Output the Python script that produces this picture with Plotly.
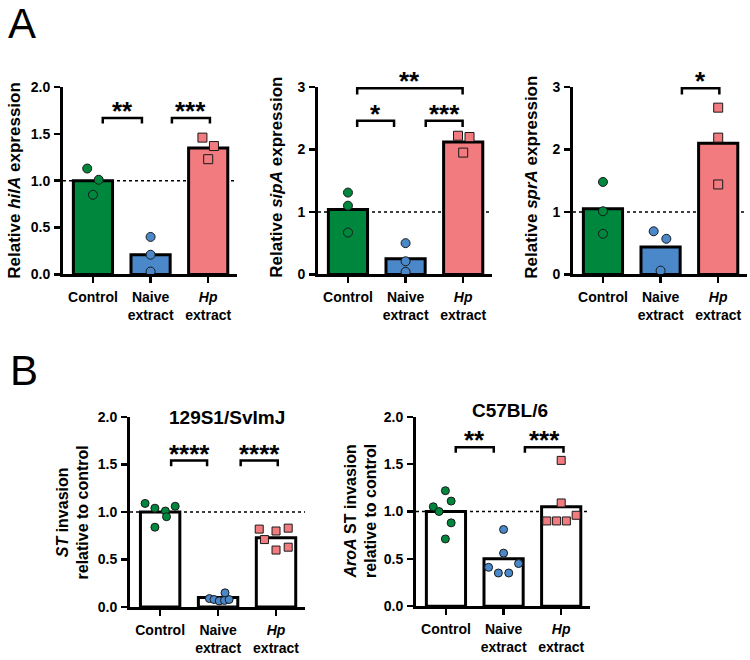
import plotly.graph_objects as go

# ---------------- data ----------------
categories = ["Control", "Naive<br>extract", "<i>Hp</i><br>extract"]
group_colors = ["#00873E", "#4A88CA", "#F17B7E"]

# Panel A (relative expression)
hilA_bars = [1.00, 0.21, 1.35]
hilA_points = [[1.13, 1.01, 0.85], [0.40, 0.21, 0.03], [1.46, 1.37, 1.23]]
sipA_bars = [1.04, 0.25, 2.12]
sipA_points = [[1.31, 1.10, 0.67], [0.50, 0.21, 0.04], [2.22, 2.20, 1.95]]
sprA_bars = [1.05, 0.44, 2.10]
sprA_points = [[1.48, 1.01, 0.65], [0.69, 0.57, 0.06], [2.67, 2.19, 1.44]]

# Panel B (invasion relative to control)
svimj_bars = [1.00, 0.10, 0.73]
svimj_points = [[1.09, 1.04, 1.01, 1.06, 0.95, 0.84],
                [0.09, 0.08, 0.065, 0.07, 0.08, 0.15],
                [0.82, 0.80, 0.83, 0.71, 0.60, 0.63]]
c57_bars = [1.00, 0.50, 1.05]
c57_points = [[1.05, 1.00, 1.22, 1.11, 0.88, 0.71],
              [0.81, 0.56, 0.41, 0.35, 0.35, 0.45],
              [1.54, 1.09, 0.90, 0.90, 0.90, 0.96]]

# significance comparisons: (start, end, bracket height, label)
hilA_sig = [(0.17, 0.85, 1.67, "**"), (1.37, 2.03, 1.67, "***")]
sipA_sig = [(0.16, 0.80, 2.46, "*"), (1.35, 1.99, 2.46, "***"), (0.16, 1.99, 2.98, "**")]
sprA_sig = [(1.37, 2.02, 2.98, "*")]
svimj_sig = [(0.19, 0.81, 1.54, "****"), (1.39, 2.03, 1.54, "****")]
c57_sig = [(0.17, 0.83, 1.68, "**"), (1.37, 2.04, 1.68, "***")]

# ---------------- layout helpers (styles / jitter) ----------------
jitter_A1 = [[-0.10, 0.10, 0.0], [0, 0, 0], [-0.10, 0.10, 0.0]]
jitter_A2 = [[0, 0, 0], [0, 0, 0], [-0.09, 0.11, 0.0]]
jitter_A3 = [[0, 0, 0], [-0.12, 0.10, 0.0], [0, 0, 0]]
jitter_B1 = [[-0.26, -0.09, 0.09, 0.26, 0.11, -0.09],
             [-0.15, -0.07, 0.02, 0.11, 0.19, 0.12],
             [-0.29, 0.0, 0.21, -0.20, 0.0, 0.21]]
jitter_B2 = [[-0.22, -0.12, -0.01, 0.09, 0.09, -0.01],
             [0.0, 0.0, -0.26, -0.09, 0.09, 0.26],
             [0.0, 0.0, -0.25, -0.08, 0.09, 0.26]]

W, H = 750, 660
FONT = "Liberation Sans, Arial, Helvetica, sans-serif"
XR = [-0.52, 2.5]

panels = [
    dict(bars=hilA_bars, pts=hilA_points, jit=jitter_A1, sig=hilA_sig, filled=True,
         xd=[63, 237], yd=[81, 273], yr=[0, 2.0], tv=[0, 0.5, 1.0, 1.5, 2.0], fmt=".1f",
         ytitle="Relative <i>hilA</i> expression", tpos=(15, 177), tsize=17, msize=9),
    dict(bars=sipA_bars, pts=sipA_points, jit=jitter_A2, sig=sipA_sig, filled=True,
         xd=[318, 492], yd=[81, 273], yr=[0, 3.0], tv=[0, 1, 2, 3], fmt="d",
         ytitle="Relative <i>sipA</i> expression", tpos=(277, 174), tsize=17, msize=9),
    dict(bars=sprA_bars, pts=sprA_points, jit=jitter_A3, sig=sprA_sig, filled=True,
         xd=[573, 747], yd=[81, 273], yr=[0, 3.0], tv=[0, 1, 2, 3], fmt="d",
         ytitle="Relative <i>sprA</i> expression", tpos=(532, 174), tsize=17, msize=9),
    dict(bars=svimj_bars, pts=svimj_points, jit=jitter_B1, sig=svimj_sig, filled=False,
         xd=[130, 305], yd=[419, 614], yr=[0, 2.0], tv=[0, 0.5, 1.0, 1.5, 2.0], fmt=".1f",
         ytitle="<i>ST</i> invasion<br>relative to control", tpos=(73, 517), tsize=16, msize=8,
         title="129S1/SvImJ", titlepos=(227, 420)),
    dict(bars=c57_bars, pts=c57_points, jit=jitter_B2, sig=c57_sig, filled=False,
         xd=[416, 590], yd=[419, 613], yr=[0, 2.0], tv=[0, 0.5, 1.0, 1.5, 2.0], fmt=".1f",
         ytitle="<i>AroA</i> ST invasion<br>relative to control", tpos=(361, 516), tsize=16, msize=8,
         title="C57BL/6", titlepos=(510, 413)),
]

fig = go.Figure()
shapes, annotations = [], []
layout = dict(width=W, height=H, margin=dict(l=0, r=0, t=0, b=0),
              paper_bgcolor="white", plot_bgcolor="white", showlegend=False,
              font=dict(family=FONT, color="black"))

symbols = ["circle", "circle", "square"]

for i, p in enumerate(panels):
    n = "" if i == 0 else str(i + 1)
    xa, ya = "x" + n, "y" + n
    xd = [p["xd"][0] / W, p["xd"][1] / W]
    yd = [1 - p["yd"][1] / H, 1 - p["yd"][0] / H]
    ymax = p["yr"][1]

    fills = group_colors if p["filled"] else ["white"] * 3
    fig.add_trace(go.Bar(x=[0, 1, 2], y=p["bars"], width=0.68, xaxis=xa, yaxis=ya,
                         marker=dict(color=fills, line=dict(color="black", width=3)),
                         hoverinfo="skip"))
    for g in range(3):
        xs = [g + j for j in p["jit"][g]]
        fig.add_trace(go.Scatter(x=xs, y=p["pts"][g], mode="markers", xaxis=xa, yaxis=ya,
                                 cliponaxis=False, hoverinfo="skip",
                                 marker=dict(symbol=symbols[g], size=p["msize"],
                                             color=group_colors[g],
                                             line=dict(color="#1a1a1a", width=1))))

    axkey = "xaxis" + n
    aykey = "yaxis" + n
    layout[axkey] = dict(domain=xd, range=XR, anchor=ya, showgrid=False, zeroline=False,
                         showline=True, linecolor="black", linewidth=3,
                         ticks="outside", ticklen=6, tickwidth=2.5, tickcolor="black",
                         tickvals=[0, 1, 2], ticktext=categories, ticklabelstandoff=2,
                         tickfont=dict(family=FONT, size=14, color="black", weight="bold"),
                         fixedrange=True)
    layout[aykey] = dict(domain=yd, range=p["yr"], anchor=xa, showgrid=False, zeroline=False,
                         showline=True, linecolor="black", linewidth=3,
                         ticks="outside", ticklen=6, tickwidth=2.5, tickcolor="black",
                         tickvals=p["tv"], tickformat=p["fmt"], ticklabelstandoff=1,
                         tickfont=dict(family=FONT, size=14, color="black", weight="bold"),
                         fixedrange=True)

    # dotted reference line at 1
    shapes.append(dict(type="line", xref=xa + " domain", yref=ya, x0=0, x1=1, y0=1, y1=1,
                       line=dict(color="black", width=1.6, dash="dot"), layer="below"))

    # significance brackets
    def fx(v):
        return (v - XR[0]) / (XR[1] - XR[0])
    leg = 0.06 * ymax / 2.0 if ymax <= 2 else 0.1
    for (a, b, h, lab) in p["sig"]:
        x0, x1 = fx(a), fx(b)
        y_top = h / ymax
        y_leg = (h - leg) / ymax
        shapes.append(dict(type="path", xref=xa + " domain", yref=ya + " domain",
                           path=f"M {x0},{y_leg} L {x0},{y_top} L {x1},{y_top} L {x1},{y_leg}",
                           line=dict(color="black", width=2.5)))
        annotations.append(dict(x=(a + b) / 2, y=h, xref=xa, yref=ya, text=lab,
                                showarrow=False, yanchor="middle", yshift=7,
                                font=dict(family=FONT, size=26, color="black", weight="bold")))

    # y-axis title
    annotations.append(dict(x=p["tpos"][0] / W, y=1 - p["tpos"][1] / H, xref="paper", yref="paper",
                            text=p["ytitle"], textangle=-90, showarrow=False,
                            xanchor="center", yanchor="middle",
                            font=dict(family=FONT, size=p["tsize"], color="black", weight="bold")))
    if "title" in p:
        annotations.append(dict(x=p["titlepos"][0] / W, y=1 - p["titlepos"][1] / H,
                                xref="paper", yref="paper", text=p["title"], showarrow=False,
                                xanchor="center", yanchor="middle",
                                font=dict(family=FONT, size=19, color="black", weight="bold")))

# panel letters
annotations.append(dict(x=22 / W, y=1 - 16 / H, xref="paper", yref="paper", text="A",
                        showarrow=False, xanchor="center", yanchor="middle",
                        font=dict(family=FONT, size=42, color="black")))
annotations.append(dict(x=24 / W, y=1 - 371 / H, xref="paper", yref="paper", text="B",
                        showarrow=False, xanchor="center", yanchor="middle",
                        font=dict(family=FONT, size=42, color="black")))

layout["shapes"] = shapes
layout["annotations"] = annotations
layout["hovermode"] = False
fig.update_layout(**layout)
fig.write_html("out.html", config={"displayModeBar": False, "staticPlot": True},
               post_script="document.body.style.margin='0px';")
